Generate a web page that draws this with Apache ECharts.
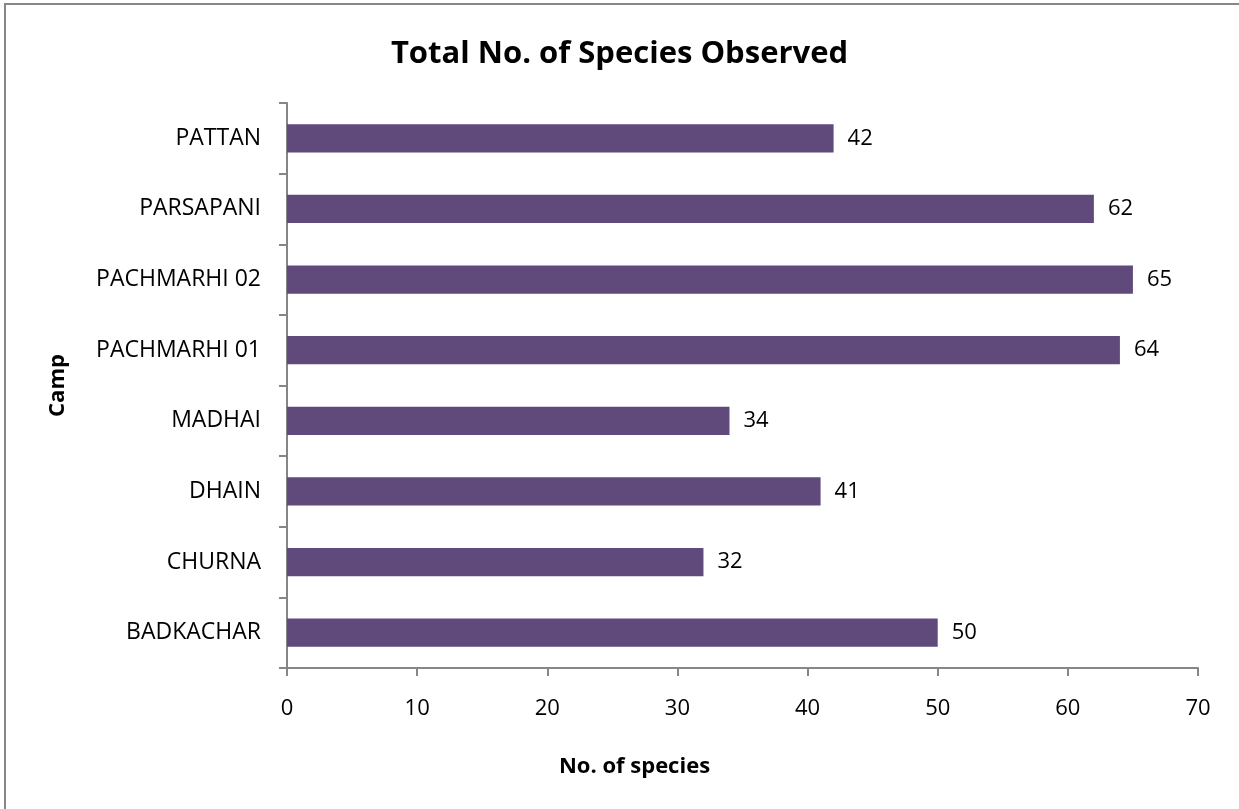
<!DOCTYPE html>
<html>
<head>
<meta charset="utf-8">
<script src="https://cdn.jsdelivr.net/npm/echarts@6/dist/echarts.min.js"></script>
<style>html,body{margin:0;padding:0;background:#fff}#c{width:1239px;height:809px}</style>
</head>
<body>
<div id="c"></div>
<script>
var categories = ['BADKACHAR','CHURNA','DHAIN','MADHAI','PACHMARHI 01','PACHMARHI 02','PARSAPANI','PATTAN'];
var speciesCounts = [50, 32, 41, 34, 64, 65, 62, 42];
var xTicks = [0, 10, 20, 30, 40, 50, 60, 70];

var FONT = 'Open Sans';
var chart = echarts.init(document.getElementById('c'));
chart.setOption({
  animation: false,
  backgroundColor: '#fff',
  textStyle: { fontFamily: FONT },
  title: {
    text: 'Total No. of Species Observed',
    left: 'center',
    top: 34,
    textStyle: { fontFamily: FONT, fontSize: 31, fontWeight: 'bold', color: '#000' }
  },
  graphic: [{
    type: 'rect',
    shape: { x: 5, y: 4, width: 1400, height: 1000 },
    style: { fill: null, stroke: '#878787', lineWidth: 2 },
    silent: true
  }],
  grid: { left: 287, right: 41, top: 103, bottom: 141, containLabel: false },
  xAxis: {
    type: 'value',
    min: 0,
    max: 70,
    interval: 10,
    name: 'No. of species',
    nameLocation: 'middle',
    nameGap: 88,
    nameTextStyle: { fontFamily: FONT, fontSize: 22, fontWeight: 'bold', color: '#000', padding: [0, 216, 0, 0] },
    axisLine: { show: true, lineStyle: { color: '#868686', width: 2 } },
    axisTick: { show: true, length: 8, lineStyle: { color: '#868686', width: 2 } },
    axisLabel: { fontFamily: FONT, fontSize: 22, color: '#000', margin: 30,
      formatter: function (v) { return xTicks.indexOf(v) >= 0 ? String(v) : ''; } },
    splitLine: { show: false }
  },
  yAxis: {
    type: 'category',
    data: categories,
    name: 'Camp',
    nameLocation: 'middle',
    nameRotate: 90,
    nameGap: 218,
    nameTextStyle: { fontFamily: FONT, fontSize: 22, fontWeight: 'bold', color: '#000' },
    axisLine: { show: true, lineStyle: { color: '#868686', width: 2 } },
    axisTick: { show: true, length: 8, lineStyle: { color: '#868686', width: 2 } },
    axisLabel: { fontFamily: FONT, fontSize: 23, color: '#000', margin: 26 }
  },
  series: [{
    type: 'bar',
    data: speciesCounts,
    barWidth: '40%',
    itemStyle: { color: '#604A7B' },
    label: { show: true, position: 'right', distance: 14, fontFamily: FONT, fontSize: 22, color: '#000' }
  }]
});
</script>
</body>
</html>
